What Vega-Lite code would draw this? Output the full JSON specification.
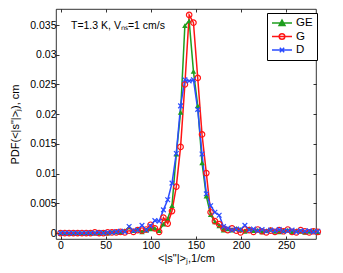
{
"$schema": "https://vega.github.io/schema/vega-lite/v6.json",
"width": 260, "height": 230,
"autosize": {"type": "none"},
"padding": {"left": 56, "top": 9, "right": 27, "bottom": 34},
"background": "white",
"config": {
 "font": "Liberation Sans",
 "view": {"stroke": "black", "strokeWidth": 0.8},
 "axis": {"domain": false, "grid": false, "tickColor": "black", "tickSize": -3, "tickWidth": 0.8, "labelColor": "black", "labelFontSize": 10.5, "titleFontSize": 11, "titleFontWeight": "normal", "titleColor": "black"}
},
"datasets": {"pdf": [
{"s":"GE","x":0,"y":0},{"s":"GE","x":4.75,"y":0},{"s":"GE","x":9.5,"y":0},{"s":"GE","x":14.25,"y":0},{"s":"GE","x":19,"y":0},{"s":"GE","x":23.75,"y":0},{"s":"GE","x":28.5,"y":0},{"s":"GE","x":33.25,"y":0},{"s":"GE","x":38,"y":0},{"s":"GE","x":42.75,"y":0},{"s":"GE","x":47.5,"y":0.0001},{"s":"GE","x":52.25,"y":0},{"s":"GE","x":57,"y":0.0002},{"s":"GE","x":61.75,"y":0.0002},{"s":"GE","x":66.5,"y":0.0001},{"s":"GE","x":71.25,"y":0.0004},{"s":"GE","x":76,"y":0.001},{"s":"GE","x":80.75,"y":0.0004},{"s":"GE","x":85.5,"y":0.0006},{"s":"GE","x":90.25,"y":0.0002},{"s":"GE","x":95,"y":0.0005},{"s":"GE","x":99.75,"y":0.0007},{"s":"GE","x":104.5,"y":0.0008},{"s":"GE","x":109.25,"y":0.0004},{"s":"GE","x":114,"y":0.0015},{"s":"GE","x":118.75,"y":0.0024},{"s":"GE","x":123.5,"y":0.0046},{"s":"GE","x":128.25,"y":0.0133},{"s":"GE","x":133,"y":0.0203},{"s":"GE","x":137.75,"y":0.0349},{"s":"GE","x":142.5,"y":0.0357},{"s":"GE","x":147.25,"y":0.0272},{"s":"GE","x":152,"y":0.0214},{"s":"GE","x":156.75,"y":0.0118},{"s":"GE","x":161.5,"y":0.0062},{"s":"GE","x":166.25,"y":0.0031},{"s":"GE","x":171,"y":0.0019},{"s":"GE","x":175.75,"y":0.0012},{"s":"GE","x":180.5,"y":0.0005},{"s":"GE","x":185.25,"y":0.0007},{"s":"GE","x":190,"y":0.0005},{"s":"GE","x":194.75,"y":0.0008},{"s":"GE","x":199.5,"y":0.0006},{"s":"GE","x":204.25,"y":0.0003},{"s":"GE","x":209,"y":0.0007},{"s":"GE","x":213.75,"y":0.0004},{"s":"GE","x":218.5,"y":0.0005},{"s":"GE","x":223.25,"y":0.0002},{"s":"GE","x":228,"y":0.0004},{"s":"GE","x":232.75,"y":0.0006},{"s":"GE","x":237.5,"y":0.0003},{"s":"GE","x":242.25,"y":0.0002},{"s":"GE","x":247,"y":0.0004},{"s":"GE","x":251.75,"y":0.0005},{"s":"GE","x":256.5,"y":0.0002},{"s":"GE","x":261.25,"y":0.0004},{"s":"GE","x":266,"y":0.0003},{"s":"GE","x":270.75,"y":0.0001},{"s":"GE","x":275.5,"y":0.0003},{"s":"GE","x":280.25,"y":0.0004},{"s":"GE","x":285,"y":0.0001},
{"s":"G","x":0,"y":0},{"s":"G","x":4.75,"y":0},{"s":"G","x":9.5,"y":0},{"s":"G","x":14.25,"y":0},{"s":"G","x":19,"y":0},{"s":"G","x":23.75,"y":0},{"s":"G","x":28.5,"y":0},{"s":"G","x":33.25,"y":0},{"s":"G","x":38,"y":0.0001},{"s":"G","x":42.75,"y":0},{"s":"G","x":47.5,"y":0},{"s":"G","x":52.25,"y":0.0001},{"s":"G","x":57,"y":0.0001},{"s":"G","x":61.75,"y":0.0001},{"s":"G","x":66.5,"y":0.0002},{"s":"G","x":71.25,"y":0.0001},{"s":"G","x":76,"y":0.0004},{"s":"G","x":80.75,"y":0.0002},{"s":"G","x":85.5,"y":0.0005},{"s":"G","x":90.25,"y":0.0004},{"s":"G","x":95,"y":0.0006},{"s":"G","x":99.75,"y":0.0014},{"s":"G","x":104.5,"y":0.0008},{"s":"G","x":109.25,"y":0.0002},{"s":"G","x":114,"y":0.0026},{"s":"G","x":118.75,"y":0.0016},{"s":"G","x":123.5,"y":0.0037},{"s":"G","x":128.25,"y":0.0078},{"s":"G","x":133,"y":0.0145},{"s":"G","x":137.75,"y":0.025},{"s":"G","x":142.5,"y":0.0367},{"s":"G","x":147.25,"y":0.0354},{"s":"G","x":152,"y":0.0261},{"s":"G","x":156.75,"y":0.0166},{"s":"G","x":161.5,"y":0.0101},{"s":"G","x":166.25,"y":0.0035},{"s":"G","x":171,"y":0.002},{"s":"G","x":175.75,"y":0.0015},{"s":"G","x":180.5,"y":0.0008},{"s":"G","x":185.25,"y":0.0005},{"s":"G","x":190,"y":0.0008},{"s":"G","x":194.75,"y":0.0004},{"s":"G","x":199.5,"y":0.0001},{"s":"G","x":204.25,"y":0.0006},{"s":"G","x":209,"y":0.0005},{"s":"G","x":213.75,"y":0.0002},{"s":"G","x":218.5,"y":0.0006},{"s":"G","x":223.25,"y":0.0003},{"s":"G","x":228,"y":0.0001},{"s":"G","x":232.75,"y":0.0004},{"s":"G","x":237.5,"y":0.0002},{"s":"G","x":242.25,"y":0.0005},{"s":"G","x":247,"y":0.0003},{"s":"G","x":251.75,"y":0.0006},{"s":"G","x":256.5,"y":0.0002},{"s":"G","x":261.25,"y":0.0001},{"s":"G","x":266,"y":0.0005},{"s":"G","x":270.75,"y":0.0003},{"s":"G","x":275.5,"y":0.0001},{"s":"G","x":280.25,"y":0.0003},{"s":"G","x":285,"y":0.0002},
{"s":"D","x":0,"y":0},{"s":"D","x":4.75,"y":0},{"s":"D","x":9.5,"y":0},{"s":"D","x":14.25,"y":0},{"s":"D","x":19,"y":0},{"s":"D","x":23.75,"y":0},{"s":"D","x":28.5,"y":0},{"s":"D","x":33.25,"y":0},{"s":"D","x":38,"y":0},{"s":"D","x":42.75,"y":0.0001},{"s":"D","x":47.5,"y":0},{"s":"D","x":52.25,"y":0.0001},{"s":"D","x":57,"y":0.0001},{"s":"D","x":61.75,"y":0.0002},{"s":"D","x":66.5,"y":0.0003},{"s":"D","x":71.25,"y":0.0002},{"s":"D","x":76,"y":0.0011},{"s":"D","x":80.75,"y":0.0004},{"s":"D","x":85.5,"y":0.0005},{"s":"D","x":90.25,"y":0.0013},{"s":"D","x":95,"y":0.0005},{"s":"D","x":99.75,"y":0.0012},{"s":"D","x":104.5,"y":0.0021},{"s":"D","x":109.25,"y":0.002},{"s":"D","x":114,"y":0.0039},{"s":"D","x":118.75,"y":0.0056},{"s":"D","x":123.5,"y":0.0084},{"s":"D","x":128.25,"y":0.0134},{"s":"D","x":133,"y":0.0214},{"s":"D","x":137.75,"y":0.0258},{"s":"D","x":142.5,"y":0.0256},{"s":"D","x":147.25,"y":0.0258},{"s":"D","x":152,"y":0.0208},{"s":"D","x":156.75,"y":0.0133},{"s":"D","x":161.5,"y":0.0066},{"s":"D","x":166.25,"y":0.0046},{"s":"D","x":171,"y":0.0035},{"s":"D","x":175.75,"y":0.003},{"s":"D","x":180.5,"y":0.0011},{"s":"D","x":185.25,"y":0.0008},{"s":"D","x":190,"y":0.0005},{"s":"D","x":194.75,"y":0.0007},{"s":"D","x":199.5,"y":0.0006},{"s":"D","x":204.25,"y":0.0013},{"s":"D","x":209,"y":0.0005},{"s":"D","x":213.75,"y":0.0007},{"s":"D","x":218.5,"y":0.0004},{"s":"D","x":223.25,"y":0.0006},{"s":"D","x":228,"y":0.0003},{"s":"D","x":232.75,"y":0.0005},{"s":"D","x":237.5,"y":0.0004},{"s":"D","x":242.25,"y":0.0006},{"s":"D","x":247,"y":0.0003},{"s":"D","x":251.75,"y":0.0004},{"s":"D","x":256.5,"y":0.0005},{"s":"D","x":261.25,"y":0.0002},{"s":"D","x":266,"y":0.0004},{"s":"D","x":270.75,"y":0.0003},{"s":"D","x":275.5,"y":0.0004},{"s":"D","x":280.25,"y":0.0002},{"s":"D","x":285,"y":0.0003}
]},
"data": {"name": "pdf"},
"layer": [
 {"mark": {"type": "line", "strokeWidth": 1.5, "clip": false},
  "encoding": {
   "x": {"field": "x", "type": "quantitative", "scale": {"domain": [-5, 283], "nice": false, "zero": false},
         "axis": {"orient": "bottom", "values": [0, 50, 100, 150, 200, 250], "labelPadding": 4, "title": "<|s\"|>ⱼ,1/cm", "titlePadding": 2}},
   "y": {"field": "y", "type": "quantitative", "scale": {"domain": [-0.001, 0.0377], "nice": false, "zero": false},
         "axis": {"orient": "left", "values": [0, 0.005, 0.01, 0.015, 0.02, 0.025, 0.03, 0.035], "format": "~g", "labelPadding": 3, "title": "PDF(<|s\"|>ⱼ), cm", "titlePadding": 9}},
   "color": {"field": "s", "type": "nominal", "scale": {"domain": ["GE", "G", "D"], "range": ["#1f9e1f", "#ff1414", "#2b4cff"]},
     "legend": {"orient": "none", "legendX": 211, "legendY": 4, "title": null, "fillColor": "white", "strokeColor": "black", "padding": 4, "labelFont": "Liberation Sans", "labelFontSize": 11.5, "labelColor": "black", "symbolSize": 100, "symbolStrokeWidth": 1.5, "rowPadding": 1.5, "symbolOffset": 5, "labelOffset": 8,
       "encode": {"symbols": {"update": {
         "shape": {"signal": "datum.value === 'GE' ? 'M-2,0L2,0M-0.6,0.5L0,-0.6L0.6,0.5Z' : datum.value === 'G' ? 'M-2,0L2,0M-0.56,0A0.56,0.56 0 1 1 0.56,0A0.56,0.56 0 1 1 -0.56,0' : 'M-2,0L2,0M-0.44,-0.44L0.44,0.44M-0.44,0.44L0.44,-0.44'"},
         "fill": {"signal": "datum.value === 'GE' ? '#1f9e1f' : 'transparent'"},
         "stroke": {"signal": "datum.value === 'GE' ? '#1f9e1f' : datum.value === 'G' ? '#ff1414' : '#2b4cff'"},
         "opacity": {"value": 1}}}}}},
   "order": {"field": "x", "type": "quantitative"}
  }},
 {"transform": [{"filter": "datum.s === 'GE'"}],
  "mark": {"type": "point", "shape": "triangle-up", "filled": true, "color": "#1f9e1f", "opacity": 1, "size": 30, "clip": false},
  "encoding": {
   "x": {"field": "x", "type": "quantitative", "axis": {"orient": "top", "values": [0, 50, 100, 150, 200, 250], "labels": false, "title": null}},
   "y": {"field": "y", "type": "quantitative", "axis": {"orient": "right", "values": [0, 0.005, 0.01, 0.015, 0.02, 0.025, 0.03, 0.035], "labels": false, "title": null}}
  }},
 {"transform": [{"filter": "datum.s === 'G'"}],
  "mark": {"type": "point", "shape": "circle", "filled": false, "color": "#ff1414", "strokeWidth": 1.2, "opacity": 1, "size": 30, "clip": false},
  "encoding": {
   "x": {"field": "x", "type": "quantitative", "axis": null},
   "y": {"field": "y", "type": "quantitative", "axis": null}
  }},
 {"transform": [{"filter": "datum.s === 'D'"}],
  "mark": {"type": "point", "shape": "M-1,-1L1,1M-1,1L1,-1", "filled": false, "color": "#2b4cff", "strokeWidth": 1.2, "opacity": 1, "size": 22, "clip": false},
  "encoding": {
   "x": {"field": "x", "type": "quantitative", "axis": null},
   "y": {"field": "y", "type": "quantitative", "axis": null}
  }},
 {"data": {"values": [{"x": 11.6, "y": 0.0343, "t": "T=1.3 K, Vₙₛ=1 cm/s"}]},
  "mark": {"type": "text", "align": "left", "baseline": "alphabetic", "fontSize": 10.5, "color": "black", "font": "Liberation Sans"},
  "encoding": {
   "x": {"field": "x", "type": "quantitative", "axis": null},
   "y": {"field": "y", "type": "quantitative", "axis": null},
   "text": {"field": "t"}
  }}
],
"resolve": {"axis": {"x": "independent", "y": "independent"}}
}
